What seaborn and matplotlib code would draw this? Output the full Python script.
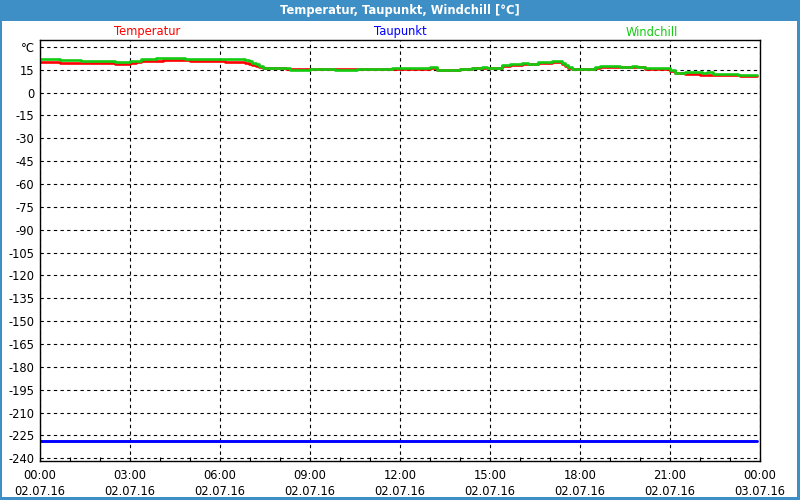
import matplotlib
matplotlib.use("Agg")
import matplotlib.pyplot as plt
from matplotlib.patches import Rectangle
from matplotlib.ticker import FixedLocator, MultipleLocator
import seaborn as sns
import pandas as pd

# ---- data (hours since 02.07.16 00:00) ----
temp_hours = [0.0, 0.66, 2.49, 3.0, 3.2, 3.38, 4.1, 5.0, 6.17, 6.83, 6.95, 7.07, 7.19, 7.31,
              7.44, 8.2, 11.72, 13.0, 13.22, 14.0, 14.39, 14.89, 15.39, 15.67, 16.06, 16.61,
              17.06, 17.39, 17.5, 17.6, 17.72, 18.5, 18.67, 19.89, 20.17, 21.0, 21.17, 21.5,
              22.0, 23.33, 23.89]
temp_values = [19.8, 19.1, 18.5, 19.1, 19.8, 20.5, 21.3, 20.5, 19.8, 19.5, 19.0, 18.0, 17.2, 16.5,
               16.4, 15.3, 15.6, 16.0, 14.9, 15.3, 15.8, 15.8, 17.4, 18.0, 18.7, 19.4,
               20.0, 19.0, 17.5, 16.0, 15.4, 16.0, 17.0, 16.5, 15.4, 14.0, 12.8, 12.1,
               11.5, 10.8, 10.8]

dew_hours = [0.0, 23.89]
dew_values = [-228.7, -228.7]

chill_hours = [0.0, 0.66, 1.38, 2.49, 3.0, 3.38, 3.88, 4.82, 6.83, 6.95, 7.07, 7.19, 7.31, 7.44,
               8.33, 9.0, 9.83, 10.55, 11.72, 13.0, 13.22, 14.0, 14.39, 14.72, 14.89, 15.39,
               15.67, 16.06, 16.28, 16.61, 17.06, 17.39, 17.5, 17.6, 17.72, 18.5, 18.67, 19.33,
               19.72, 19.89, 20.17, 21.0, 21.17, 21.5, 22.05, 22.22, 22.44, 23.28, 23.89]
chill_values = [21.8, 21.1, 20.5, 19.8, 20.5, 21.8, 22.9, 22.2, 21.5, 20.5, 19.5, 18.5, 17.4, 16.1,
                14.9, 15.3, 14.9, 15.3, 16.0, 16.7, 14.9, 15.3, 16.1, 16.7, 16.1, 18.0,
                18.7, 19.4, 18.7, 20.0, 20.7, 19.5, 18.0, 16.5, 15.6, 16.7, 17.4, 16.7,
                17.4, 16.7, 16.0, 14.5, 12.8, 13.5, 12.8, 13.5, 12.4, 11.5, 11.5]

x_tick_hours = [0, 3, 6, 9, 12, 15, 18, 21, 24]
x_tick_labels = ["00:00\n02.07.16", "03:00\n02.07.16", "06:00\n02.07.16", "09:00\n02.07.16",
                 "12:00\n02.07.16", "15:00\n02.07.16", "18:00\n02.07.16", "21:00\n02.07.16",
                 "00:00\n03.07.16"]
y_tick_values = [30, 15, 0, -15, -30, -45, -60, -75, -90, -105, -120, -135, -150, -165,
                 -180, -195, -210, -225, -240]
y_tick_labels = ["°C"] + [str(v) for v in y_tick_values[1:]]

series_names = ["Temperatur", "Taupunkt", "Windchill"]
series_colors = ["#ff0000", "#0000ff", "#11cc11"]

df = pd.concat([
    pd.DataFrame({"h": temp_hours, "v": temp_values, "s": series_names[0]}),
    pd.DataFrame({"h": dew_hours, "v": dew_values, "s": series_names[1]}),
    pd.DataFrame({"h": chill_hours, "v": chill_values, "s": series_names[2]}),
])

sns.set_theme(style="white")
plt.rcParams["font.family"] = ["DejaVu Sans"]

blue = "#3d8fc6"
fig = plt.figure(figsize=(8, 5), dpi=100, facecolor=blue)
# white inner panel
fig.patches.append(Rectangle((2 / 800, 3 / 500), 795 / 800, 476 / 500,
                             transform=fig.transFigure, facecolor="white",
                             edgecolor="none", zorder=-10))
fig.text(0.5, 1 - 10.5 / 500, "Temperatur, Taupunkt, Windchill [°C]", color="white",
         fontsize=8.3, fontweight="bold", ha="center", va="center")

ax = fig.add_axes([40 / 800, 39.5 / 500, 720 / 800, 420.5 / 500])
ax.set_zorder(2)
ax.set_facecolor("white")

for name, col in zip(series_names, series_colors):
    sub = df[df["s"] == name]
    lw = 1.9 if name != "Taupunkt" else 2.1
    sns.lineplot(data=sub, x="h", y="v", ax=ax, color=col, linewidth=lw,
                 drawstyle="steps-post", estimator=None, sort=False, legend=False, zorder=3)

ax.set_xlim(0, 24)
ax.set_ylim(-241.5, 34.5)
ax.set_xlabel("")
ax.set_ylabel("")

ax.xaxis.set_major_locator(FixedLocator(x_tick_hours))
ax.set_xticklabels(x_tick_labels, fontsize=8.3, linespacing=1.35)
ax.xaxis.set_minor_locator(MultipleLocator(1))
ax.yaxis.set_major_locator(FixedLocator(y_tick_values))
ax.set_yticklabels(y_tick_labels, fontsize=8.3)

ax.tick_params(axis="x", which="both", direction="in", length=3, width=0.8, color="black",
               pad=6, labelcolor="black", bottom=True)
ax.tick_params(axis="y", which="both", length=0, pad=4, labelcolor="black")

ax.grid(True, which="major", color="black", linestyle=(0, (3, 3)), linewidth=0.8)
for sp in ax.spines.values():
    sp.set_color("black")
    sp.set_linewidth(1.0)
    sp.set_zorder(5)

# series labels above plot
label_x = [147, 400, 652]
for name, col, px in zip(series_names, series_colors, label_x):
    fig.text(px / 800, 1 - 32 / 500, name, color=col, fontsize=8.3, ha="center", va="center")

fig.savefig("out.png", dpi=100, facecolor=fig.get_facecolor())
